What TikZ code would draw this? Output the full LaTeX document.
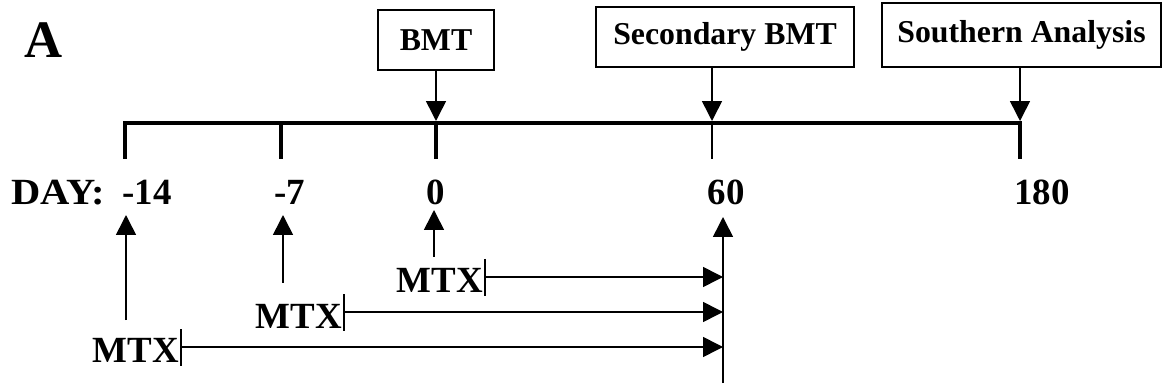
\documentclass[tikz,border=0pt]{standalone}
\usepackage{fontspec}
\setmainfont{Liberation Serif}
\usetikzlibrary{arrows.meta}

\begin{document}
\begin{tikzpicture}[x=0.02cm,y=-0.02cm,
     box/.style={draw,line width=0.9pt,inner sep=0pt,font=\fontsize{18.1}{20}\selectfont\bfseries},
     lbl/.style={inner sep=0pt,font=\fontsize{21}{23}\selectfont\bfseries},
     arr/.style={line width=0.9pt,-{Triangle[length=11.3pt,width=11.3pt]}},
     bar/.style={line width=0.9pt},
     axis/.style={line width=2.4pt}
   ]
   \path[use as bounding box] (0,0) rectangle (1163,388);
   \node[lbl,anchor=base west,font=\fontsize{30}{32}\selectfont\bfseries] (A) at (24,58) {A};
   % Time line.
   \draw[axis] (125,159) -- (125,123) -- (1020,123) -- (1020,159);
   \draw[axis] (281,123) -- (281,159);
   \draw[axis] (436,123) -- (436,159);
   \draw[bar] (712,123) -- (712,159);
   \coordinate (t0) at (436,121);
   \coordinate (t60) at (712,121);
   \coordinate (t180) at (1020,121);
   % Events.
   \node[box,minimum width=2.32cm,minimum height=1.2cm] (bmt) at (436,40) {BMT};
   \node[box,minimum width=5.16cm,minimum height=1.2cm] (sec) at (725,37) {Secondary BMT};
   \node[box,minimum width=5.58cm,minimum height=1.28cm] (sou) at (1021.5,35) {Southern Analysis};
   \draw[arr] (bmt.south) -- (t0);
   \draw[arr] (sec.south -| t60) -- (t60);
   \draw[arr] (sou.south -| t180) -- (t180);
   % Days.
   \node[lbl,anchor=base west,xscale=1.1,transform shape] (day) at (11,205) {DAY:};
   \node[lbl,anchor=base] (dm14) at (147,205) {-14};
   \node[lbl,anchor=base] (dm7) at (290,205) {-7};
   \node[lbl,anchor=base] (d0) at (436,205) {0};
   \node[lbl,anchor=base] (d60) at (726,205) {60};
   \node[lbl,anchor=base] (d180) at (1042,205) {180};
   \coordinate (u14a) at (126,320); \coordinate (u14b) at (126,215);
   \coordinate (u7a) at (283,283); \coordinate (u7b) at (283,215);
   \coordinate (u0a) at (434,257); \coordinate (u0b) at (434,210);
   \coordinate (v60a) at (723,383); \coordinate (v60b) at (723,217);
   \draw[arr] (u14a) -- (u14b);
   \draw[arr] (u7a) -- (u7b);
   \draw[arr] (u0a) -- (u0b);
   \draw[arr] (v60a) -- (v60b);
   % MTX courses.
   \node[lbl,anchor=base east] (m0) at (483,293) {MTX};
   \coordinate (s0) at (485,277);
   \draw[bar] (485,259) -- (485,296);
   \draw[arr] (s0) -- (s0 -| v60a);
   \node[lbl,anchor=base east] (m7) at (342,328) {MTX};
   \coordinate (s7) at (344,312);
   \draw[bar] (344,294) -- (344,331);
   \draw[arr] (s7) -- (s7 -| v60a);
   \node[lbl,anchor=base east] (m14) at (179,362) {MTX};
   \coordinate (s14) at (181,347);
   \draw[bar] (181,329) -- (181,366);
   \draw[arr] (s14) -- (s14 -| v60a);
\end{tikzpicture}
\end{document}
